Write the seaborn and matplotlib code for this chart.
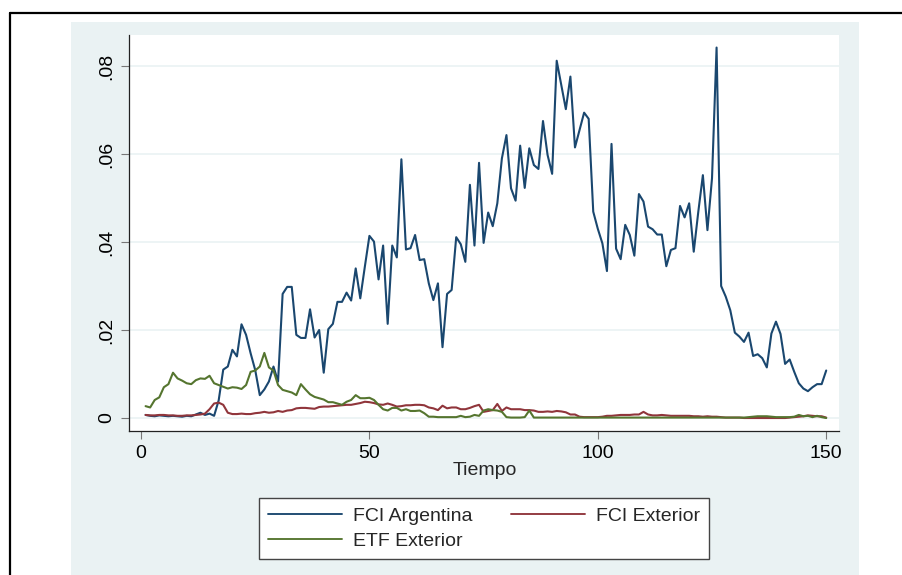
import numpy as np
import pandas as pd
import matplotlib
matplotlib.use("Agg")
import matplotlib.pyplot as plt
from matplotlib.lines import Line2D
from matplotlib.patches import Rectangle
import seaborn as sns

sns.set_style("white")
plt.rcParams['font.family'] = ['Liberation Sans', 'DejaVu Sans']

tiempo = list(range(1, 151))

fci_argentina = [
    0.0007, 0.0005, 0.0004, 0.0006, 0.0005, 0.0004, 0.0005, 0.0004, 0.0003, 0.0005,
    0.0004, 0.0008, 0.0012, 0.0007, 0.0010, 0.0005, 0.0040, 0.0110, 0.0117, 0.0155,
    0.0140, 0.0213, 0.0189, 0.0147, 0.0109, 0.0052, 0.0065, 0.0083, 0.0117, 0.0083,
    0.0282, 0.0298, 0.0298, 0.0189, 0.0182, 0.0182, 0.0247, 0.0183, 0.0200, 0.0103,
    0.0202, 0.0214, 0.0264, 0.0264, 0.0285, 0.0267, 0.0340, 0.0272, 0.0344, 0.0414,
    0.0401, 0.0315, 0.0392, 0.0214, 0.0392, 0.0365, 0.0588, 0.0383, 0.0386, 0.0416,
    0.0359, 0.0361, 0.0306, 0.0268, 0.0306, 0.0161, 0.0282, 0.0291, 0.0411, 0.0395,
    0.0355, 0.0530, 0.0392, 0.0580, 0.0398, 0.0467, 0.0436, 0.0488, 0.0590, 0.0643,
    0.0522, 0.0494, 0.0619, 0.0523, 0.0613, 0.0575, 0.0566, 0.0675, 0.0598, 0.0555,
    0.0812, 0.0757, 0.0702, 0.0776, 0.0615, 0.0655, 0.0694, 0.0680, 0.0469, 0.0430,
    0.0397, 0.0334, 0.0623, 0.0385, 0.0361, 0.0439, 0.0416, 0.0369, 0.0509, 0.0492,
    0.0435, 0.0429, 0.0417, 0.0417, 0.0345, 0.0382, 0.0386, 0.0482, 0.0456, 0.0488,
    0.0378, 0.0469, 0.0552, 0.0427, 0.0545, 0.0842, 0.0300, 0.0276, 0.0245, 0.0194,
    0.0185, 0.0173, 0.0194, 0.0141, 0.0145, 0.0136, 0.0115, 0.0192, 0.0219, 0.0191,
    0.0123, 0.0133, 0.0105, 0.0079, 0.0067, 0.0061, 0.0070, 0.0077, 0.0077, 0.0108,
]

fci_exterior = [
    0.0007, 0.0006, 0.0006, 0.0007, 0.0007, 0.0006, 0.0006, 0.0005, 0.0005, 0.0006,
    0.0006, 0.0007, 0.0008, 0.0010, 0.0020, 0.0033, 0.0035, 0.0030, 0.0012, 0.0009,
    0.0009, 0.0010, 0.0009, 0.0009, 0.0011, 0.0012, 0.0014, 0.0012, 0.0013, 0.0016,
    0.0014, 0.0017, 0.0018, 0.0022, 0.0023, 0.0023, 0.0022, 0.0021, 0.0025, 0.0026,
    0.0026, 0.0027, 0.0028, 0.0029, 0.0030, 0.0030, 0.0032, 0.0034, 0.0037, 0.0036,
    0.0034, 0.0031, 0.0030, 0.0033, 0.0030, 0.0026, 0.0027, 0.0029, 0.0029, 0.0030,
    0.0030, 0.0029, 0.0024, 0.0022, 0.0018, 0.0028, 0.0022, 0.0024, 0.0024, 0.0020,
    0.0020, 0.0023, 0.0027, 0.0030, 0.0014, 0.0016, 0.0018, 0.0032, 0.0016, 0.0024,
    0.0020, 0.0020, 0.0020, 0.0018, 0.0018, 0.0017, 0.0014, 0.0014, 0.0015, 0.0014,
    0.0016, 0.0015, 0.0013, 0.0008, 0.0008, 0.0003, 0.0002, 0.0002, 0.0002, 0.0002,
    0.0003, 0.0005, 0.0005, 0.0006, 0.0007, 0.0007, 0.0007, 0.0008, 0.0008, 0.0014,
    0.0008, 0.0006, 0.0006, 0.0007, 0.0006, 0.0005, 0.0005, 0.0005, 0.0005, 0.0005,
    0.0004, 0.0004, 0.0003, 0.0004, 0.0003, 0.0003, 0.0002, 0.0001, 0.0001, 0.0001,
    0.0001, 0.0000, 0.0000, 0.0000, 0.0000, 0.0000, 0.0000, 0.0000, 0.0000, 0.0000,
    0.0000, 0.0001, 0.0002, 0.0003, 0.0004, 0.0006, 0.0005, 0.0004, 0.0004, 0.0001,
]

etf_exterior = [
    0.0027, 0.0024, 0.0041, 0.0047, 0.0070, 0.0077, 0.0103, 0.0090, 0.0085, 0.0079,
    0.0077, 0.0086, 0.0090, 0.0089, 0.0096, 0.0079, 0.0075, 0.0071, 0.0067, 0.0070,
    0.0069, 0.0066, 0.0075, 0.0105, 0.0108, 0.0117, 0.0148, 0.0115, 0.0108, 0.0075,
    0.0064, 0.0061, 0.0058, 0.0052, 0.0077, 0.0065, 0.0054, 0.0048, 0.0045, 0.0042,
    0.0036, 0.0036, 0.0033, 0.0030, 0.0037, 0.0041, 0.0052, 0.0045, 0.0045, 0.0046,
    0.0041, 0.0030, 0.0020, 0.0017, 0.0023, 0.0023, 0.0017, 0.0020, 0.0016, 0.0016,
    0.0017, 0.0011, 0.0003, 0.0003, 0.0002, 0.0002, 0.0002, 0.0002, 0.0002, 0.0005,
    0.0002, 0.0003, 0.0007, 0.0005, 0.0017, 0.0020, 0.0018, 0.0017, 0.0014, 0.0002,
    0.0001, 0.0001, 0.0001, 0.0002, 0.0017, 0.0001, 0.0001, 0.0001, 0.0001, 0.0001,
    0.0001, 0.0001, 0.0001, 0.0001, 0.0001, 0.0001, 0.0001, 0.0001, 0.0001, 0.0001,
    0.0001, 0.0001, 0.0001, 0.0001, 0.0001, 0.0001, 0.0001, 0.0001, 0.0001, 0.0001,
    0.0001, 0.0001, 0.0001, 0.0001, 0.0001, 0.0001, 0.0001, 0.0001, 0.0001, 0.0001,
    0.0001, 0.0001, 0.0001, 0.0001, 0.0001, 0.0001, 0.0001, 0.0001, 0.0001, 0.0001,
    0.0001, 0.0001, 0.0002, 0.0003, 0.0004, 0.0004, 0.0004, 0.0003, 0.0002, 0.0002,
    0.0002, 0.0002, 0.0003, 0.0007, 0.0004, 0.0005, 0.0002, 0.0005, 0.0002, 0.0000,
]

series_names = ["FCI Argentina", "FCI Exterior", "ETF Exterior"]
series_colors = ["#1a476f", "#90353b", "#55752f"]
x_ticks = [0, 50, 100, 150]
y_ticks = [0, 0.02, 0.04, 0.06, 0.08]
y_tick_labels = ["0", ".02", ".04", ".06", ".08"]

assert len(fci_argentina) == len(fci_exterior) == len(etf_exterior) == len(tiempo)

df = pd.DataFrame({
    "Tiempo": tiempo * 3,
    "valor": fci_argentina + fci_exterior + etf_exterior,
    "serie": [series_names[0]] * 150 + [series_names[1]] * 150 + [series_names[2]] * 150,
})

W, H = 903, 575
fig = plt.figure(figsize=(W / 100, H / 100), dpi=100, facecolor="white")

# graph region background
fig.patches.append(Rectangle((71 / W, 0), (859 - 71) / W, (H - 22) / H,
                             transform=fig.transFigure, facecolor="#eaf2f3",
                             edgecolor="none", zorder=-5))
# outer black border (top & left)
fig.lines.append(Line2D([10 / W, 1.0], [1 - 13 / H, 1 - 13 / H],
                        transform=fig.transFigure, color="black", lw=1.6, zorder=-4))
fig.lines.append(Line2D([10 / W, 10 / W], [0, 1 - 13 / H],
                        transform=fig.transFigure, color="black", lw=1.6, zorder=-4))

ax = fig.add_axes([129 / W, 1 - 431 / H, (839 - 129) / W, (431 - 35) / H])
ax.set_zorder(2)
ax.set_facecolor("white")

sns.lineplot(data=df, x="Tiempo", y="valor", hue="serie", hue_order=series_names,
             palette=series_colors, linewidth=1.5, ax=ax, legend=False, zorder=3)

ax.set_xlim(-2.63, 152.8)
ax.set_ylim(-0.00295, 0.08705)
ax.set_xticks(x_ticks)
ax.set_xticklabels([str(t) for t in x_ticks])
ax.set_yticks(y_ticks)
ax.set_yticklabels(y_tick_labels, rotation=90, va="center")
ax.grid(axis="y", color="#eaf2f3", linewidth=1.2, zorder=0)
ax.grid(axis="x", visible=False)

for side in ["top", "right"]:
    ax.spines[side].set_visible(False)
for side in ["left", "bottom"]:
    ax.spines[side].set_color("#222222")
    ax.spines[side].set_linewidth(0.9)

ax.tick_params(axis="both", which="major", direction="out", length=5.8, width=0.8,
               color="#777777", labelsize=14, labelcolor="black", pad=4,
               left=True, bottom=True)
ax.set_ylabel("")
ax.set_xlabel("Tiempo", fontsize=14)
ax.xaxis.set_label_coords((485 - 129) / 710, -(462 - 431) / 396)
ax.xaxis.label.set_va("top")

handles = [Line2D([], [], color=c, lw=1.35) for c in series_colors]
order = [0, 2, 1]
leg = fig.legend([handles[i] for i in order], [series_names[i] for i in order],
                 ncol=2, loc="center", bbox_to_anchor=(484 / W, 1 - 528.5 / H),
                 fontsize=14, frameon=True, fancybox=False, shadow=False,
                 framealpha=1.0,
                 handlelength=3.8, handletextpad=0.6, columnspacing=1.95,
                 labelspacing=0.4, borderpad=0.45, borderaxespad=0)
leg.get_frame().set_edgecolor("#444444")
leg.get_frame().set_linewidth(1.0)
leg.get_frame().set_facecolor("white")

fig.savefig("out.png", dpi=100, facecolor="white")
